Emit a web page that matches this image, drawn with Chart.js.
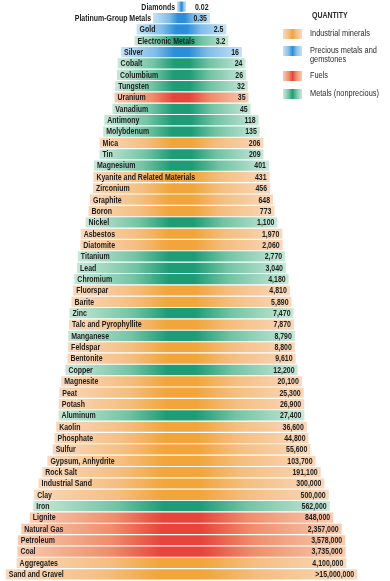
<!DOCTYPE html>
<html>
<head>
<meta charset="utf-8">
<script src="https://cdn.jsdelivr.net/npm/chart.js@4"></script>
<style>
  html, body { margin:0; padding:0; background:#fff; }
  #wrap { position:relative; width:390px; height:581px; }
  #legend { position:absolute; left:0; top:0; width:390px; height:120px; pointer-events:none;
            font-family:"Liberation Sans",Arial,sans-serif; color:#2a2a2a; }
  .lg-title { position:absolute; left:312px; top:10px; font-size:8.5px; font-weight:bold;
              transform:scaleX(0.82); transform-origin:left top; white-space:nowrap; }
  .lg-sw { position:absolute; left:283px; width:19px; height:10px; }
  .lg-tx { position:absolute; left:310px; font-size:9px; line-height:9px; white-space:nowrap;
           transform:scaleX(0.82); transform-origin:left top; }
</style>
</head>
<body>
<div id="wrap">
  <canvas id="chart" width="390" height="581"></canvas>
  <div id="legend"></div>
</div>
<script>
/* DATA */
const minerals = [
  "Diamonds","Platinum-Group Metals","Gold","Electronic Metals","Silver","Cobalt","Columbium","Tungsten",
  "Uranium","Vanadium","Antimony","Molybdenum","Mica","Tin","Magnesium","Kyanite and Related Materials",
  "Zirconium","Graphite","Boron","Nickel","Asbestos","Diatomite","Titanium","Lead","Chromium","Fluorspar",
  "Barite","Zinc","Talc and Pyrophyllite","Manganese","Feldspar","Bentonite","Copper","Magnesite","Peat",
  "Potash","Aluminum","Kaolin","Phosphate","Sulfur","Gypsum, Anhydrite","Rock Salt","Industrial Sand","Clay",
  "Iron","Lignite","Natural Gas","Petroleum","Coal","Aggregates","Sand and Gravel"
];
const quantities = [
  0.02,0.35,2.5,3.2,16,24,26,32,
  35,45,118,135,206,209,401,431,
  456,648,773,1100,1970,2060,2770,3040,4180,4810,
  5890,7470,7870,8790,8800,9610,12200,20100,25300,
  26900,27400,36600,44800,55600,103700,191100,300000,500000,
  562000,848000,2357000,3578000,3735000,4100000,15000000
];
// I = industrial minerals, P = precious, F = fuels, M = metals (nonprecious)
const groups = [
  "P","P","P","M","P","M","M","M",
  "F","M","M","M","I","M","M","I",
  "I","I","I","M","I","I","M","M","M","I",
  "I","M","I","M","I","I","M","I","I",
  "I","M","I","I","I","I","I","I","I",
  "M","F","F","F","F","I","I"
];
const atLeast = ["Sand and Gravel"];

const legendItems = [
  { key:"I", text:"Industrial minerals" },
  { key:"P", text:"Precious metals and<br>gemstones" },
  { key:"F", text:"Fuels" },
  { key:"M", text:"Metals (nonprecious)" },
];
const legendTops = [29, 46, 71, 89];

const PALETTE = {
  I:{ edge:"#f9d8bc", mid:"#f5be80", core:"#f1a53a" },
  P:{ edge:"#c6e3f6", mid:"#82bde9", core:"#2b8ed8" },
  F:{ edge:"#f8ccb0", mid:"#ef8e6c", core:"#e5453a" },
  M:{ edge:"#c9e8d9", mid:"#72c4a4", core:"#1e9c76" },
};

const OFFSET = 1.93; // decades below 1 so the smallest bar still has width
const FONT = "bold 8.5px 'Liberation Sans',Arial,sans-serif";
const SX = 0.82;     // squeeze text like a narrow face

function halfWidth(v) { return Math.log10(v) + OFFSET; }
function fmt(v, name) {
  const s = v.toLocaleString("en-US");
  return atLeast.includes(name) ? ">" + s : s;
}

function barFill(ctx) {
  const p = PALETTE[groups[ctx.dataIndex]] || PALETTE.I;
  const chart = ctx.chart;
  if (!chart.chartArea || ctx.type !== "data") return p.core;
  const xs = chart.scales.x;
  const r = ctx.raw;
  const x0 = xs.getPixelForValue(r[0]), x1 = xs.getPixelForValue(r[1]);
  const g = chart.ctx.createLinearGradient(x0, 0, x1, 0);
  g.addColorStop(0, p.edge);
  g.addColorStop(0.28, p.mid);
  g.addColorStop(0.44, p.core);
  g.addColorStop(0.56, p.core);
  g.addColorStop(0.72, p.mid);
  g.addColorStop(1, p.edge);
  return g;
}

function squeezed(c, text, x, y, align) {
  c.save();
  c.translate(x, y);
  c.scale(SX, 1);
  c.textAlign = align;
  c.fillText(text, 0, 0);
  c.restore();
}

/* LABELS ON BARS */
const barText = {
  id:"barText",
  afterDatasetsDraw(chart) {
    const c = chart.ctx;
    const meta = chart.getDatasetMeta(0);
    c.save();
    c.font = FONT;
    c.fillStyle = "#1c1c1c";
    c.textBaseline = "middle";
    meta.data.forEach((el, i) => {
      const left = Math.min(el.x, el.base), right = Math.max(el.x, el.base);
      const w = right - left, y = el.y + 0.5;
      const name = minerals[i], val = fmt(quantities[i], name);
      const lw = c.measureText(name).width * SX, vw = c.measureText(val).width * SX;
      if (w >= lw + vw + 12) squeezed(c, name, left + 3, y, "left");
      else squeezed(c, name, left - 2, y, "right");
      if (w >= vw + 8) squeezed(c, val, right - 3, y, "right");
      else squeezed(c, val, right + 9, y, "left");
    });
    c.restore();
  }
};

function buildLegend() {
  const box = document.getElementById("legend");
  let html = '<div class="lg-title">QUANTITY</div>';
  legendItems.forEach((it, i) => {
    const p = PALETTE[it.key];
    const top = legendTops[i];
    html += `<div class="lg-sw" style="top:${top}px;background:linear-gradient(to right,${p.edge},${p.mid} 30%,${p.core} 50%,${p.mid} 70%,${p.edge})"></div>`;
    html += `<div class="lg-tx" style="top:${top}px">${it.text}</div>`;
  });
  box.innerHTML = html;
}

/* CHART */
const CENTER_PX = 181.5, PX_PER_UNIT = 19.3;
new Chart(document.getElementById("chart"), {
  type:"bar",
  data:{
    labels: minerals,
    datasets:[{
      data: quantities.map(v => [-halfWidth(v), halfWidth(v)]),
      backgroundColor: barFill,
      borderWidth: 0,
      barPercentage: 0.9,
      categoryPercentage: 1,
    }]
  },
  options:{
    indexAxis:"y",
    responsive:false,
    animation:false,
    layout:{ padding:{ top:1, bottom:1, left:0, right:0 } },
    plugins:{ legend:{ display:false }, tooltip:{ enabled:false } },
    scales:{
      x:{ display:false, min:-CENTER_PX / PX_PER_UNIT, max:(390 - CENTER_PX) / PX_PER_UNIT },
      y:{ display:false }
    }
  },
  plugins:[barText]
});
buildLegend();
</script>
</body>
</html>
